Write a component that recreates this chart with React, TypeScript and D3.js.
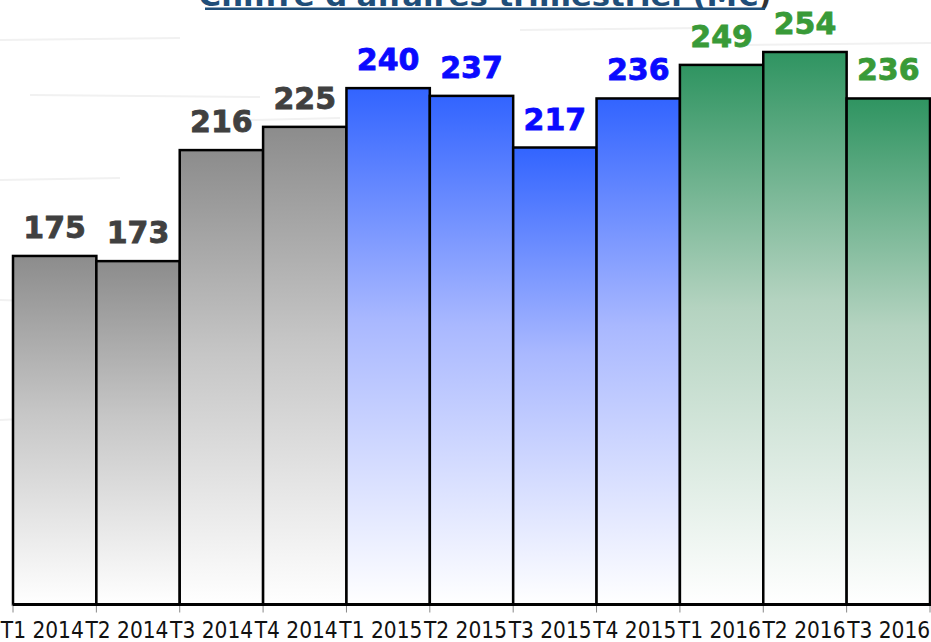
import React, { useEffect } from "react";
import * as d3 from "d3";

const quarters = [
  "T1 2014", "T2 2014", "T3 2014", "T4 2014",
  "T1 2015", "T2 2015", "T3 2015", "T4 2015",
  "T1 2016", "T2 2016", "T3 2016",
];
const revenue = [175, 173, 216, 225, 240, 237, 217, 236, 249, 254, 236];
const years = quarters.map(q => q.slice(3));

const W = 931;
const H = 642;

// one palette per year
const yearColors: Record<string, { top: string; mid: string; bottom: string; label: string }> = {
  "2014": { top: "#8c8c8c", mid: "#c6c6c6", bottom: "#ffffff", label: "#404040" },
  "2015": { top: "#3264ff", mid: "#a9b8ff", bottom: "#ffffff", label: "#0a0aff" },
  "2016": { top: "#2f9461", mid: "#b4d3c0", bottom: "#ffffff", label: "#399a38" },
};

export default function App() {
  useEffect(() => {
    document.body.style.margin = "0";
  }, []);

  const x = d3.scaleBand().domain(quarters).range([13, 930]).padding(0);
  const xLabel = d3.scaleBand().domain(quarters).range([0, W]).padding(0);
  const y = d3.scaleLinear().domain([40, 260]).range([604.5, 36.5]);
  const base = y(40);

  const streaks = [
    [0, 40, 180, 38], [30, 95, 260, 97], [0, 180, 120, 178], [0, 300, 60, 302],
    [0, 420, 40, 418], [520, 30, 700, 28], [740, 45, 931, 43], [250, 120, 340, 118],
  ];

  return (
    <svg width={W} height={H} style={{ display: "block", background: "#fff" }}>
      <defs>
        {Object.entries(yearColors).map(([yr, c]) => (
          <linearGradient key={yr} id={`g${yr}`} x1="0" y1="0" x2="0" y2="1">
            <stop offset="0" stopColor={c.top} />
            <stop offset="0.45" stopColor={c.mid} />
            <stop offset="1" stopColor={c.bottom} />
          </linearGradient>
        ))}
      </defs>

      {/* faint texture in the background */}
      {streaks.map((s, i) => (
        <line key={i} x1={s[0]} y1={s[1]} x2={s[2]} y2={s[3]} stroke="#f1f1f1" strokeWidth={2} />
      ))}

      {/* title, clipped at the top of the picture */}
      <text
        x={485}
        y={6}
        textAnchor="middle"
        fontFamily="DejaVu Sans, Verdana, sans-serif"
        fontWeight="bold"
        fontSize={28}
        fill="#1f4e79"
      >
        <tspan textLength={560} lengthAdjust="spacingAndGlyphs">Chiffre d'affaires trimestriel (M€</tspan>
        <tspan fill="#333">)</tspan>
      </text>
      <rect x={205} y={7.5} width={560} height={2.5} fill="#1f4e79" />

      {/* bars */}
      {quarters.map((q, i) => (
        <rect
          key={q}
          x={x(q)}
          y={y(revenue[i])}
          width={x.bandwidth()}
          height={base - y(revenue[i])}
          fill={`url(#g${years[i]})`}
          stroke="#000"
          strokeWidth={2.5}
        />
      ))}

      {/* value labels */}
      {quarters.map((q, i) => (
        <text
          key={q}
          x={(x(q) as number) + x.bandwidth() / 2}
          y={y(revenue[i]) - 18}
          textAnchor="middle"
          fontFamily="DejaVu Sans, Verdana, sans-serif"
          fontWeight="bold"
          fontSize={30}
          fill={yearColors[years[i]].label}
          stroke={yearColors[years[i]].label}
          strokeWidth={0.8}
        >
          {revenue[i]}
        </text>
      ))}

      {/* axis */}
      {quarters.concat("end").map((q, i) => {
        const px = i < quarters.length ? (x(q) as number) : 930;
        return <line key={q} x1={px} x2={px} y1={base} y2={base + 8} stroke="#888" strokeWidth={1} />;
      })}
      <line x1={13} x2={W} y1={base} y2={base} stroke="#000" strokeWidth={3} />

      {quarters.map(q => (
        <text
          key={q}
          x={(xLabel(q) as number) + xLabel.bandwidth() / 2}
          y={638}
          textAnchor="middle"
          fontFamily="Liberation Sans Narrow, DejaVu Sans Condensed, sans-serif"
          fontSize={23}
          fill="#111"
          textLength={83}
          lengthAdjust="spacingAndGlyphs"
        >
          {q}
        </text>
      ))}
    </svg>
  );
}
